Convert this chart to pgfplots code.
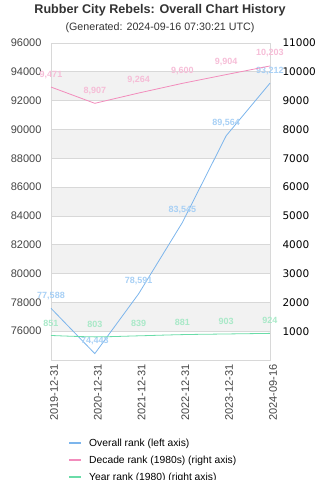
\documentclass[border=0pt]{standalone}
\usepackage{pgfplots}
\pgfplotsset{compat=1.18}
\usepackage{fontspec}
\setmainfont{Liberation Sans}
\newfontfamily\dejavu{DejaVu Sans}
\definecolor{titlec}{HTML}{333333}
\definecolor{tickc}{HTML}{444444}
\definecolor{gridc}{HTML}{D8D8D8}
\definecolor{bandc}{HTML}{F2F2F2}
\definecolor{blueL}{HTML}{7CB5EC}
\definecolor{blueT}{HTML}{A8D0F5}
\definecolor{pinkL}{HTML}{F28CBC}
\definecolor{pinkT}{HTML}{F6BDD7}
\definecolor{greenL}{HTML}{6ADCA8}
\definecolor{greenT}{HTML}{A9E9C8}
\pgfplotsset{
  lbl/.style={nodes near coords={\pgfmathprintnumber[fixed,precision=0,1000 sep={,},assume math mode=true]{\pgfplotspointmeta}},
    point meta=explicit,
    every node near coord/.append style={anchor=center, yshift=12.5pt, font=\bfseries\fontsize{9}{10}\selectfont, text=#1}},
}
\begin{document}
\begin{tikzpicture}[x=1pt,y=1pt]
\node[font=\bfseries\fontsize{12.6}{14}\selectfont, text=titlec] at (160,470) {Rubber City Rebels: Overall Chart History};
\node[font=\fontsize{10.7}{12}\selectfont, text=titlec] at (160,452) {(Generated: 2024-09-16 07:30:21 UTC)};
\begin{axis}[
  set layers,
  at={(51pt,120pt)}, anchor=south west,
  scale only axis, width=219pt, height=317pt,
  xmin=0, xmax=5, ymin=74000, ymax=96000,
  ytick={76000,78000,...,96000}, scaled y ticks=false,
  xtick={0,1,2,3,4,5},
  xticklabels={2019-12-31,2020-12-31,2021-12-31,2022-12-31,2023-12-31,2024-09-16},
  x tick label style={rotate=90, anchor=east, font=\fontsize{11}{12}\selectfont, text=tickc, xshift=-1pt},
  y tick label style={font=\fontsize{11}{12}\selectfont, text=tickc, /pgf/number format/fixed, /pgf/number format/1000 sep={}, /pgf/number format/assume math mode=true},
  yticklabel style={xshift=-6pt},
  xticklabel style={yshift=-3pt},
  ymajorgrids, grid style={color=gridc, line width=0.8pt},
  axis line style={color=gridc, line width=0.8pt},
  major tick length=0pt,
  clip=false,
]
\begin{pgfonlayer}{axis background}
\fill[bandc] (axis cs:0,92000) rectangle (axis cs:5,94000);
\fill[bandc] (axis cs:0,88000) rectangle (axis cs:5,90000);
\fill[bandc] (axis cs:0,84000) rectangle (axis cs:5,86000);
\fill[bandc] (axis cs:0,80000) rectangle (axis cs:5,82000);
\fill[bandc] (axis cs:0,76000) rectangle (axis cs:5,78000);
\end{pgfonlayer}
\addplot[blueL, line width=0.8pt, mark=none, lbl=blueT] coordinates {
(0,77588) [77588] (1,74443) [74443] (2,78591) [78591] (3,83545) [83545] (4,89564) [89564] (5,93212) [93212]};
\end{axis}
\begin{axis}[
  at={(51pt,120pt)}, anchor=south west,
  scale only axis, width=219pt, height=317pt,
  xmin=0, xmax=5, ymin=0, ymax=11000,
  axis y line*=right, axis x line=none,
  ytick={1000,2000,...,11000}, scaled y ticks=false,
  y tick label style={font=\dejavu\fontsize{10.5}{12}\selectfont, text=black, anchor=west, xshift=9pt, /pgf/number format/fixed, /pgf/number format/1000 sep={}, /pgf/number format/assume math mode=true},
  axis line style={draw=none},
  major tick length=0pt,
  clip=false,
  legend style={at={(0.064,-0.233)}, anchor=north west, draw=none, fill=none,
    font=\fontsize{10.3}{12}\selectfont, row sep=3pt, column sep=5pt,
    nodes={inner sep=2pt, text height=8pt, text depth=2pt}},
  legend cell align=left,
  legend image code/.code={\draw[#1, line width=2pt] (0pt,0pt) -- (12pt,0pt);},
]
\addlegendimage{blueL}
\addlegendentry{Overall rank (left axis)}
\addplot[pinkL, line width=0.8pt, mark=none, lbl=pinkT] coordinates {
(0,9471) [9471] (1,8907) [8907] (2,9264) [9264] (3,9600) [9600] (4,9904) [9904] (5,10203) [10203]};
\addlegendentry{Decade rank (1980s) (right axis)}
\addplot[greenL, line width=0.8pt, mark=none, smooth, lbl=greenT] coordinates {
(0,851) [851] (1,803) [803] (2,839) [839] (3,881) [881] (4,903) [903] (5,924) [924]};
\addlegendentry{Year rank (1980) (right axis)}
\end{axis}
\pgfresetboundingbox
\path[use as bounding box] (0,0) rectangle (320,480);
\end{tikzpicture}
\end{document}
